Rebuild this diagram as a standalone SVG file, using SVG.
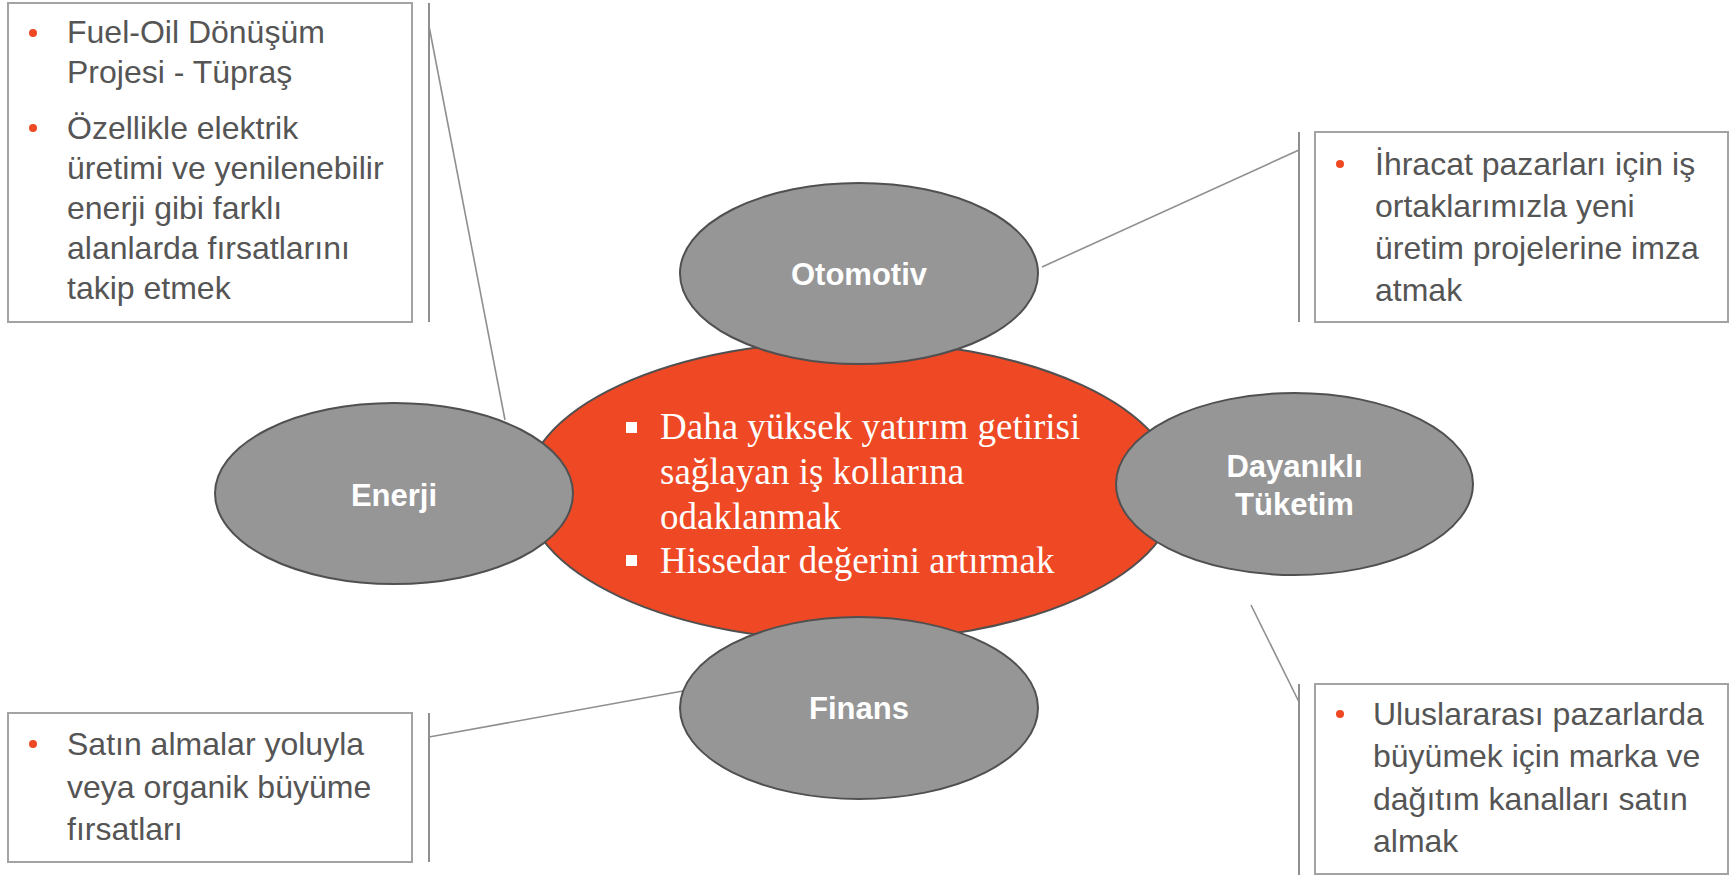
<svg xmlns="http://www.w3.org/2000/svg" width="1730" height="875" viewBox="0 0 1730 875">
<style>
.box{fill:#ffffff;stroke:#a3a3a3;stroke-width:2}
.bar{stroke:#8f8f8f;stroke-width:2;fill:none}
.con{stroke:#8f8f8f;stroke-width:1.6;fill:none}
.ct{font-family:"Liberation Sans",Arial,sans-serif;font-size:32px;fill:#555555}
.dot{fill:#ee4824}
.sat{fill:#969696;stroke:#505050;stroke-width:2}
.st{font-family:"Liberation Sans",Arial,sans-serif;font-size:31px;font-weight:bold;fill:#ffffff;text-anchor:middle}
.core{fill:#ee4824;stroke:#505050;stroke-width:2}
.mt{font-family:"Liberation Serif","Times New Roman",serif;font-size:37px;fill:#ffffff}
</style>
<g id="connectors">
<line class="bar" x1="429" y1="3" x2="429" y2="322"/>
<line class="con" x1="429" y1="26" x2="505" y2="420"/>
<line class="bar" x1="1299" y1="132" x2="1299" y2="322"/>
<line class="con" x1="1299" y1="150" x2="1042" y2="267"/>
<line class="bar" x1="1299" y1="684" x2="1299" y2="875"/>
<line class="con" x1="1251" y1="605" x2="1299" y2="702"/>
<line class="bar" x1="429" y1="713" x2="429" y2="862"/>
<line class="con" x1="429" y1="737" x2="683" y2="691"/>
</g>
<g id="core">
<ellipse class="core" cx="851" cy="491" rx="326" ry="150"/>
<rect x="626" y="422" width="11" height="11" fill="#ffffff"/>
<rect x="626" y="555" width="11" height="11" fill="#ffffff"/>
<text class="mt" x="660" y="439">Daha yüksek yatırım getirisi</text>
<text class="mt" x="660" y="484">sağlayan iş kollarına</text>
<text class="mt" x="660" y="529">odaklanmak</text>
<text class="mt" x="660" y="573">Hissedar değerini artırmak</text>
</g>
<g id="otomotiv">
<ellipse class="sat" cx="859" cy="273.5" rx="179" ry="90.5"/>
<text class="st" x="859" y="285">Otomotiv</text>
</g>
<g id="enerji">
<ellipse class="sat" cx="394" cy="493.5" rx="179" ry="90.5"/>
<text class="st" x="394" y="506">Enerji</text>
</g>
<g id="dayanikli">
<ellipse class="sat" cx="1294.5" cy="484" rx="178.5" ry="91"/>
<text class="st" x="1294.5" y="477">Dayanıklı</text>
<text class="st" x="1294.5" y="515">Tüketim</text>
</g>
<g id="finans">
<ellipse class="sat" cx="859" cy="708" rx="179" ry="91"/>
<text class="st" x="859" y="719">Finans</text>
</g>
<g id="box-enerji">
<rect class="box" x="8" y="3" width="404" height="319"/>
<circle class="dot" cx="33" cy="33" r="4"/>
<circle class="dot" cx="33" cy="128" r="4"/>
<text class="ct" x="67" y="43">Fuel-Oil Dönüşüm</text>
<text class="ct" x="67" y="83">Projesi - Tüpraş</text>
<text class="ct" x="67" y="139">Özellikle elektrik</text>
<text class="ct" x="67" y="179">üretimi ve yenilenebilir</text>
<text class="ct" x="67" y="219">enerji gibi farklı</text>
<text class="ct" x="67" y="259">alanlarda fırsatlarını</text>
<text class="ct" x="67" y="299">takip etmek</text>
</g>
<g id="box-otomotiv">
<rect class="box" x="1315" y="132" width="413" height="190"/>
<circle class="dot" cx="1340" cy="164" r="4"/>
<text class="ct" x="1375" y="175">İhracat pazarları için iş</text>
<text class="ct" x="1375" y="217">ortaklarımızla yeni</text>
<text class="ct" x="1375" y="259">üretim projelerine imza</text>
<text class="ct" x="1375" y="301">atmak</text>
</g>
<g id="box-dayanikli">
<rect class="box" x="1315" y="684" width="413" height="190"/>
<circle class="dot" cx="1340" cy="714" r="4"/>
<text class="ct" x="1373" y="725">Uluslararası pazarlarda</text>
<text class="ct" x="1373" y="767">büyümek için marka ve</text>
<text class="ct" x="1373" y="810">dağıtım kanalları satın</text>
<text class="ct" x="1373" y="852">almak</text>
</g>
<g id="box-finans">
<rect class="box" x="8" y="713" width="404" height="149"/>
<circle class="dot" cx="33" cy="744" r="4"/>
<text class="ct" x="67" y="755">Satın almalar yoluyla</text>
<text class="ct" x="67" y="798">veya organik büyüme</text>
<text class="ct" x="67" y="840">fırsatları</text>
</g>
</svg>
